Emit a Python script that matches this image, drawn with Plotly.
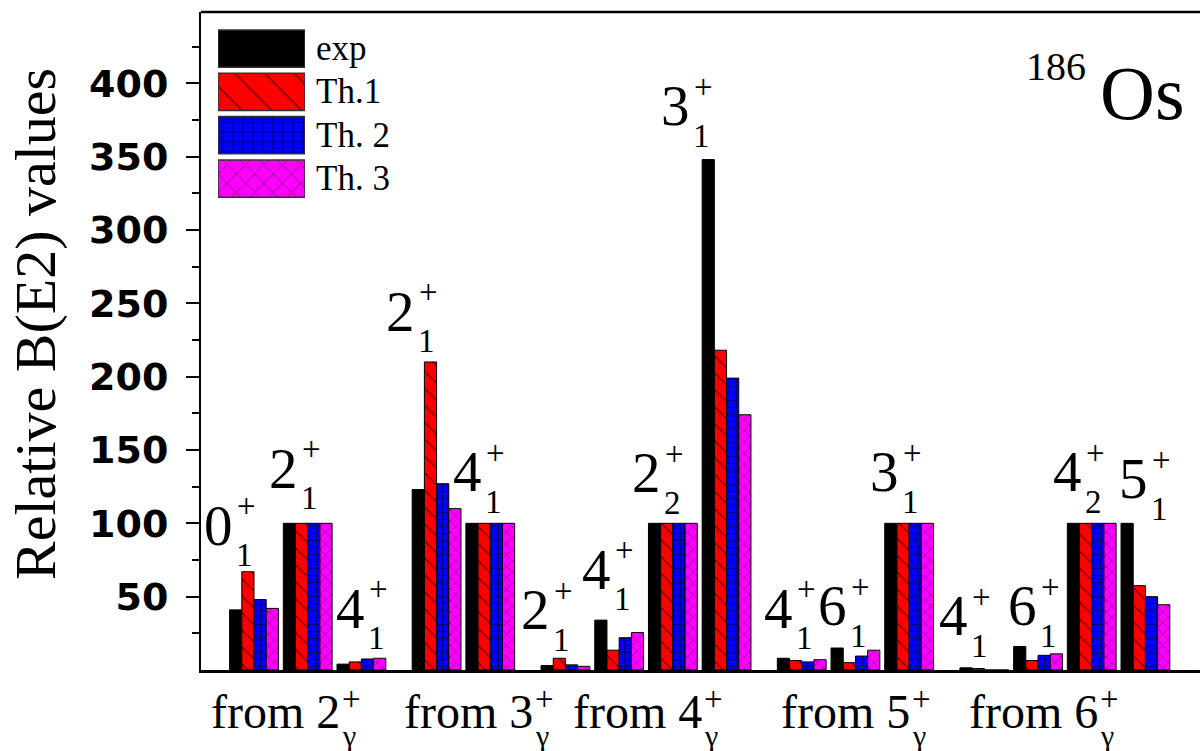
import plotly.graph_objects as go

# Relative B(E2) values for gamma-band decays in 186Os
initial_J = ["2", "3", "4", "5", "6"]          # J of the decaying gamma-band state
n_final = [3, 2, 4, 3, 4]                      # number of final states per initial state
final_J = ["0", "2", "4", "2", "4", "2", "4", "2", "3", "4", "6", "3", "4", "6", "4", "5"]
final_n = ["1", "1", "1", "1", "1", "1", "1", "2", "1", "1", "1", "1", "1", "1", "2", "1"]

exp_vals = [41, 100, 4, 123, 100, 3, 34, 100, 348, 8, 15, 100, 1.5, 16, 100, 100]
th1_vals = [67, 100, 5.5, 210, 100, 8, 13.5, 100, 218, 6.5, 5, 100, 1.0, 6.5, 100, 57.5]
th2_vals = [48, 100, 7.5, 127, 100, 3.5, 22, 100, 199, 5.5, 9.5, 100, 0, 10, 100, 50]
th3_vals = [42, 100, 8, 110, 100, 2.5, 25.5, 100, 174, 7, 13.5, 100, 0, 11, 100, 44.5]

series_names = ["exp", "Th.1", "Th. 2", "Th. 3"]
y_ticks = [50, 100, 150, 200, 250, 300, 350, 400]
y_minor = [25, 75, 125, 175, 225, 275, 325, 375, 425]

# label anchors (data units) for the final-state labels above each group
label_x = [-0.652, 0.546, 1.803, 2.737, 3.985, 5.233, 6.382, 7.313, 7.849,
           9.758, 10.782, 11.732, 13.035, 14.311, 15.149, 16.378]
label_y = [96.8, 135.4, 40.2, 242.7, 133, 39.2, 66.5, 132.3, 382.8,
           40.2, 41.6, 133, 35.1, 41.6, 133, 128.5]
from_x = [-0.83, 2.76, 5.905, 9.785, 13.285]

# x positions: consecutive slots inside a block, wider gap between blocks
block_gap = 0.4
x_pos = []
u = 0.0
for n in n_final:
    for _ in range(n):
        x_pos.append(u)
        u += 1
    u += block_gap

SERIF = "Liberation Serif"
L, T, B = 201, 12, 81
W, H = 1200, 751
PW, PH = W - L, H - T - B


def px(xp):
    return (xp - L) / PW


def py(yp):
    return (H - B - yp) / PH


styles = [
    dict(color="black", pattern=None),
    dict(color="red", pattern=dict(shape="\\", fgcolor="black", bgcolor="red", size=12, solidity=0.12)),
    dict(color="blue", pattern=dict(shape="+", fgcolor="black", bgcolor="blue", size=7, solidity=0.25)),
    dict(color="magenta", pattern=dict(shape="x", fgcolor="black", bgcolor="magenta", size=8, solidity=0.15)),
]
legend_patterns = [
    None,
    dict(shape="\\", fgcolor="black", bgcolor="red", size=21, solidity=0.08),
    dict(shape="+", fgcolor="black", bgcolor="blue", size=10, solidity=0.22),
    dict(shape="x", fgcolor="black", bgcolor="magenta", size=13, solidity=0.12),
]

fig = go.Figure()
for name, vals, st in zip(series_names, [exp_vals, th1_vals, th2_vals, th3_vals], styles):
    marker = dict(color=st["color"], line=dict(color="black", width=1))
    if st["pattern"]:
        marker["pattern"] = st["pattern"]
    fig.add_trace(go.Bar(x=x_pos, y=vals, name=name, marker=marker, showlegend=False))

# legend swatches drawn as bars on their own small axes
for i, (name, st, pat) in enumerate(zip(series_names, styles, legend_patterns)):
    marker = dict(color=st["color"], line=dict(color="#333333", width=1.5))
    if pat:
        marker["pattern"] = pat
    fig.add_trace(go.Bar(x=[1], y=[i], base=0, orientation="h", width=0.86,
                         marker=marker, xaxis="x2", yaxis="y2", showlegend=False,
                         hoverinfo="skip"))

ann = []
# final-state labels J^+_n
for xl, yl, j, n in zip(label_x, label_y, final_J, final_n):
    ann.append(dict(x=xl, y=yl, xref="x", yref="y", text=j, showarrow=False,
                    font=dict(family=SERIF, size=57, color="black"),
                    xanchor="center", yanchor="middle", yshift=3))
    ann.append(dict(x=xl, y=yl, xref="x", yref="y", text="+", showarrow=False,
                    font=dict(family=SERIF, size=33, color="black"),
                    xanchor="center", yanchor="middle", xshift=28, yshift=22))
    ann.append(dict(x=xl, y=yl, xref="x", yref="y", text=n, showarrow=False,
                    font=dict(family=SERIF, size=33, color="black"),
                    xanchor="center", yanchor="middle", xshift=26, yshift=-27))

# "from J^+_gamma" labels under the axis
for xf, j in zip(from_x, initial_J):
    ann.append(dict(x=xf, y=py(711), xref="x", yref="paper", text="from " + j,
                    showarrow=False, font=dict(family=SERIF, size=48, color="black"),
                    xanchor="left", yanchor="middle"))
    ann.append(dict(x=xf, y=py(699), xref="x", yref="paper", text="+",
                    showarrow=False, font=dict(family=SERIF, size=33, color="black"),
                    xanchor="center", yanchor="middle", xshift=142))
    ann.append(dict(x=xf, y=py(735), xref="x", yref="paper", text="γ",
                    showarrow=False, font=dict(family=SERIF, size=30, color="black"),
                    xanchor="center", yanchor="middle", xshift=140))

# legend texts
for i, name in enumerate(series_names):
    ann.append(dict(x=px(314), y=py(48.5 + 43.3 * i), xref="paper", yref="paper",
                    text=name, showarrow=False,
                    font=dict(family=SERIF, size=35, color="black"),
                    xanchor="left", yanchor="middle"))

# nucleus label
ann.append(dict(x=px(1024), y=py(66), xref="paper", yref="paper", text="186",
                showarrow=False, font=dict(family=SERIF, size=40, color="black"),
                xanchor="left", yanchor="middle"))
ann.append(dict(x=px(1098), y=py(93), xref="paper", yref="paper", text="Os",
                showarrow=False, font=dict(family=SERIF, size=76, color="black"),
                xanchor="left", yanchor="middle"))

# y-axis title
ann.append(dict(x=px(36), y=py(324), xref="paper", yref="paper",
                text="Relative B(E2) values", textangle=-90, showarrow=False,
                font=dict(family=SERIF, size=58, color="black"),
                xanchor="center", yanchor="middle"))

x0 = (201 - 254) / 53.7
x1 = (1200 - 254) / 53.7
fig.update_layout(
    width=W, height=H,
    margin=dict(l=L, r=0, t=T, b=B),
    paper_bgcolor="white", plot_bgcolor="white",
    barmode="group", bargap=0.0913, bargroupgap=0,
    annotations=ann,
    xaxis=dict(range=[x0, x1], showticklabels=False, ticks="", showgrid=False,
               zeroline=False, showline=True, linecolor="black", linewidth=3),
    yaxis=dict(range=[0, 448.6], tickmode="array", tickvals=y_ticks,
               ticks="outside", ticklen=13, tickwidth=2, tickcolor="black",
               minor=dict(tickvals=y_minor, ticks="outside", ticklen=7, tickwidth=2,
                          tickcolor="black"),
               tickfont=dict(family="DejaVu Sans", size=38, color="black", weight="bold"),
               ticklabelstandoff=10,
               showgrid=False, zeroline=False, showline=True, linecolor="black", linewidth=2),
    xaxis2=dict(domain=[px(218), px(305)], range=[0, 1], anchor="y2", visible=False,
                fixedrange=True),
    yaxis2=dict(domain=[py(200.2), py(26.9)], range=[3.5, -0.5], anchor="x2",
                visible=False, fixedrange=True),
    shapes=[dict(type="line", xref="paper", yref="paper", x0=0, x1=1.01, y0=1, y1=1,
                 line=dict(color="black", width=2.5))],
)

fig.write_html("out.html")
